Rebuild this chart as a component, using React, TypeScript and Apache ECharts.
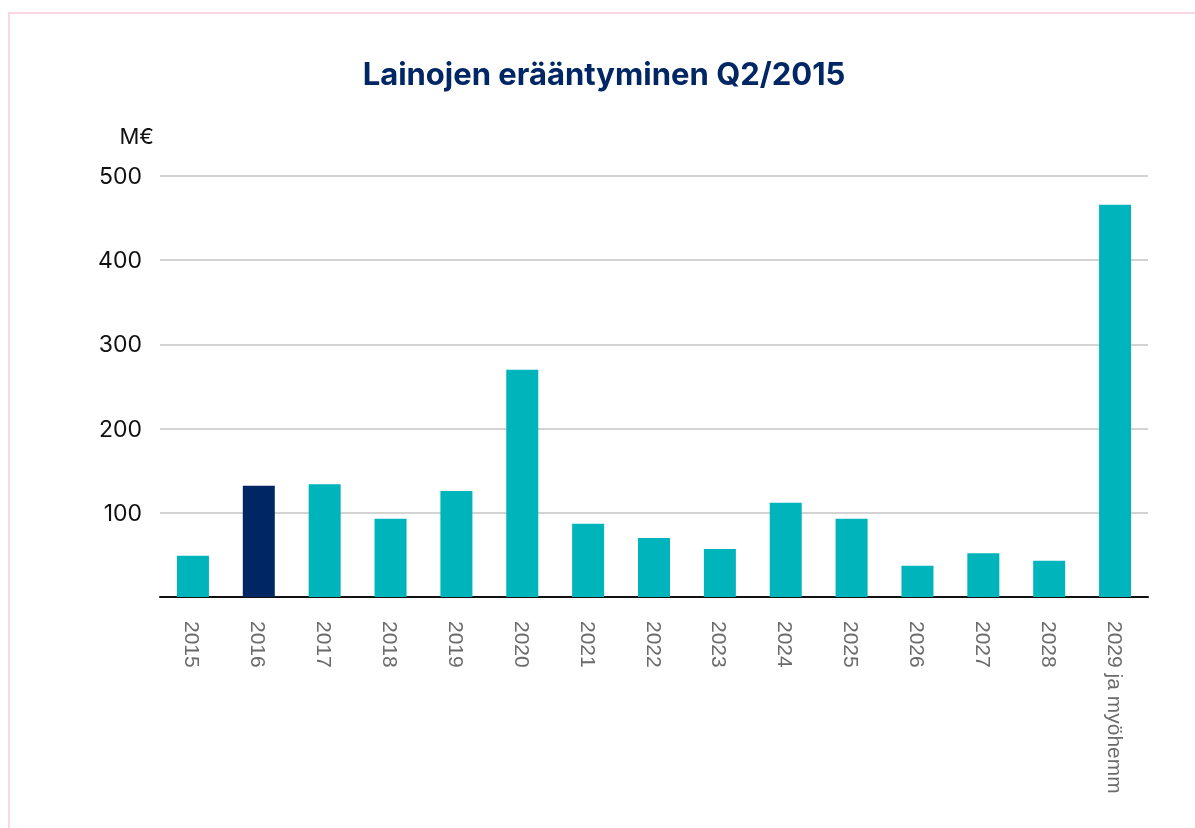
import React, { useEffect, useRef } from "react";
import * as echarts from "echarts";

const categories = ["2015", "2016", "2017", "2018", "2019", "2020", "2021", "2022", "2023", "2024", "2025", "2026", "2027", "2028", "2029 ja myöhemmin"];
const values = [49, 132, 134, 93, 126, 270, 87, 70, 57, 112, 93, 37, 52, 43, 466];
const highlightIndex = 1;
const yTicks = [0, 100, 200, 300, 400, 500];
const titleText = "Lainojen erääntyminen Q2/2015";
const unitText = "M€";

export default function App() {
  const ref = useRef<HTMLDivElement>(null);
  useEffect(() => {
    if (!ref.current) return;
    const chart = echarts.init(ref.current, null, { renderer: "svg" });
    chart.setOption({
      animation: false,
      backgroundColor: "transparent",
      title: {
        text: titleText,
        left: 599,
        top: 53,
        textAlign: "center",
        textStyle: { fontFamily: "Inter", fontWeight: "bold", fontSize: 31, color: "#002664" },
      },
      graphic: [
        {
          type: "text",
          x: 154,
          y: 136,
          style: { text: unitText, fontFamily: "Inter", fontSize: 22, fill: "#111", textAlign: "right", textVerticalAlign: "middle" },
        },
      ],
      grid: { left: 160, right: 47, top: 176, bottom: 196, outerBoundsMode: "none", containLabel: false },
      xAxis: {
        type: "category",
        data: categories,
        axisLine: { show: true, lineStyle: { color: "#111", width: 2 } },
        axisTick: { show: false },
        axisLabel: { rotate: -90, interval: 0, margin: 24, fontFamily: "Liberation Sans", fontSize: 21, color: "#6b6b6b" },
      },
      yAxis: {
        type: "value",
        min: yTicks[0],
        max: yTicks[yTicks.length - 1],
        interval: 100,
        axisLine: { show: false },
        axisTick: { show: false },
        splitLine: { lineStyle: { color: "#c4c4c4", width: 1.5 } },
        axisLabel: {
          margin: 18,
          fontFamily: "Inter",
          fontSize: 23,
          color: "#111",
          formatter: (v: number) => (v === 0 ? "" : String(v)),
        },
      },
      series: [
        {
          type: "bar",
          barWidth: 32,
          data: values.map((v, i) => ({ value: v, itemStyle: { color: i === highlightIndex ? "#002664" : "#00b4bb" } })),
        },
      ],
    });
    return () => chart.dispose();
  }, []);
  return (
    <>
      <div
        style={{
          position: "fixed",
          left: 8,
          top: 12,
          width: 1400,
          height: 1000,
          borderLeft: "2px solid #fcd6e1",
          borderTop: "2px solid #fcd6e1",
          boxSizing: "border-box",
        }}
      />
      <div ref={ref} style={{ position: "fixed", left: 0, top: 0, width: 1195, height: 793 }} />
    </>
  );
}
